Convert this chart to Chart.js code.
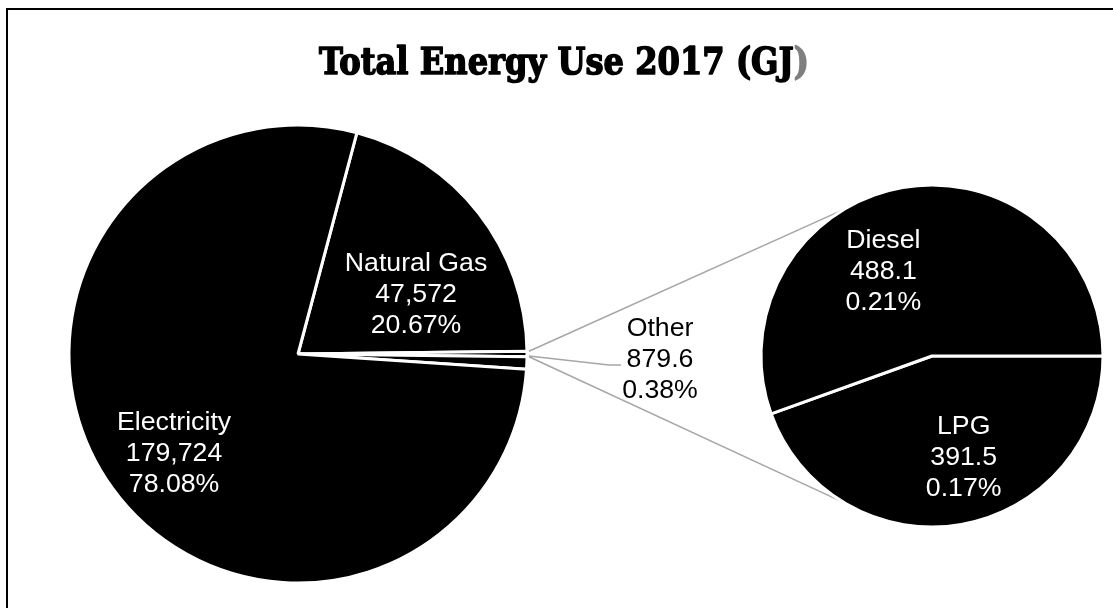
<!DOCTYPE html>
<html>
<head>
<meta charset="utf-8">
<title>Total Energy Use 2017 (GJ)</title>
<style>
  html, body { margin: 0; padding: 0; background: #fff; overflow: hidden; }
  #wrap { position: relative; width: 1113px; height: 608px; }
  #frame { position: absolute; left: 6px; top: 8px; width: 1300px; height: 800px; border: 2px solid #000; }
  canvas { position: absolute; left: 0; top: 0; }
</style>
</head>
<body>
<div id="wrap">
  <div id="frame"></div>
  <canvas id="mainPie" width="1113" height="608"></canvas>
  <canvas id="otherPie" width="1113" height="608"></canvas>
</div>

<script src="https://cdn.jsdelivr.net/npm/chart.js"></script>
<script>
// data (GJ) - main pie in drawing order, clockwise
const mainLabels = ['Natural Gas', 'Other', '', 'Electricity'];
const mainValues = [47572, 879.6, 2004.4, 179724];
// breakdown of "Other"
const otherLabels = ['LPG', 'Diesel'];
const otherValues = [391.5, 488.1];

const grandTotal = mainValues.reduce((a, b) => a + b, 0);

// label placement: [fraction of radius, shift from slice mid angle in degrees]
const mainSpots = [[0.58, 10.6], null, null, [0.69, -2.7]];
const otherSpots = [[0.61, -7.8], [0.58, -19.5]];

const LABEL_FONT = '26.7px "Liberation Sans", Arial, sans-serif';
const LINE_GAP = 31;
const GREY = '#a6a6a6';

function labelLines(name, value) {
  return [name, value.toLocaleString('en-US'), (value / grandTotal * 100).toFixed(2) + '%'];
}

function drawLines(ctx, lines, x, y, color) {
  ctx.save();
  ctx.font = LABEL_FONT;
  ctx.fillStyle = color;
  ctx.textAlign = 'center';
  ctx.textBaseline = 'middle';
  lines.forEach((t, i) => ctx.fillText(t, x, y + 2 + (i - 1) * LINE_GAP));
  ctx.restore();
}

function drawSliceLabels(chart, labels, values, spots) {
  const ctx = chart.ctx;
  const arcs = chart.getDatasetMeta(0).data;
  arcs.forEach((arc, i) => {
    const spot = spots[i];
    if (!spot) return;
    const mid = (arc.startAngle + arc.endAngle) / 2 + spot[1] * Math.PI / 180;
    const r = arc.outerRadius * spot[0];
    drawLines(ctx, labelLines(labels[i], values[i]), arc.x + r * Math.cos(mid), arc.y + r * Math.sin(mid), '#fff');
  });
}

const titlePlugin = {
  id: 'titlePlugin',
  afterDraw(chart) {
    const ctx = chart.ctx;
    const txt = 'Total Energy Use 2017 (GJ';
    ctx.save();
    ctx.font = 'bold 38px "DejaVu Serif"';
    const w1 = ctx.measureText(txt).width;
    const w2 = ctx.measureText(')').width;
    const sx = 490 / (w1 + w2);
    ctx.translate(564, 74);
    ctx.scale(sx, 1);
    ctx.textBaseline = 'alphabetic';
    ctx.textAlign = 'left';
    ctx.lineWidth = 1.6;
    ctx.lineJoin = 'round';
    ctx.fillStyle = '#000';
    ctx.strokeStyle = '#000';
    ctx.fillText(txt, -(w1 + w2) / 2, 0);
    ctx.strokeText(txt, -(w1 + w2) / 2, 0);
    ctx.fillStyle = '#7f7f7f';
    ctx.strokeStyle = '#7f7f7f';
    ctx.fillText(')', -(w1 + w2) / 2 + w1, 0);
    ctx.strokeText(')', -(w1 + w2) / 2 + w1, 0);
    ctx.restore();
  }
};

const mainLabelPlugin = {
  id: 'mainLabels',
  afterDatasetsDraw(chart) {
    drawSliceLabels(chart, mainLabels, mainValues, mainSpots);

    // "Other" label outside, with leader line
    const ctx = chart.ctx;
    const arc = chart.getDatasetMeta(0).data[1];
    const mid = (arc.startAngle + arc.endAngle) / 2;
    const ex = arc.x + (arc.outerRadius + 2) * Math.cos(mid);
    const ey = arc.y + (arc.outerRadius + 2) * Math.sin(mid);
    ctx.save();
    ctx.strokeStyle = GREY;
    ctx.lineWidth = 1.5;
    ctx.beginPath();
    ctx.moveTo(ex, ey + 2);
    ctx.lineTo(ex + 80, ey + 11);
    ctx.lineTo(ex + 92, ey + 11);
    ctx.stroke();
    ctx.restore();
    drawLines(ctx, labelLines(mainLabels[1], mainValues[1]), ex + 131, ey + 4, '#000');
  }
};

const rotationMain = 90 - (mainValues[0] + mainValues[1] / 2) / grandTotal * 360;

const mainChart = new Chart(document.getElementById('mainPie'), {
  type: 'pie',
  data: {
    labels: mainLabels,
    datasets: [{
      data: mainValues,
      backgroundColor: '#000',
      borderColor: '#fff',
      borderWidth: 3
    }]
  },
  options: {
    responsive: false,
    animation: false,
    events: [],
    radius: 229,
    rotation: rotationMain,
    layout: { padding: { left: 60, right: 577, top: 120, bottom: 20 } },
    plugins: {
      legend: { display: false },
      tooltip: { enabled: false },
      title: { display: false }
    }
  },
  plugins: [mainLabelPlugin, titlePlugin]
});

const connectorPlugin = {
  id: 'connectors',
  beforeDatasetsDraw(chart) {
    const ctx = chart.ctx;
    const src = mainChart.getDatasetMeta(0).data[1];
    const dst = chart.getDatasetMeta(0).data[0];
    const a = 59 * Math.PI / 180;
    ctx.save();
    ctx.strokeStyle = GREY;
    ctx.lineWidth = 1.5;
    [[src.startAngle, -1], [src.endAngle, 1]].forEach(([ang, s]) => {
      ctx.beginPath();
      ctx.moveTo(src.x + (src.outerRadius + 2) * Math.cos(ang), src.y + (src.outerRadius + 2) * Math.sin(ang));
      ctx.lineTo(dst.x - dst.outerRadius * Math.cos(a), dst.y + s * dst.outerRadius * Math.sin(a));
      ctx.stroke();
    });
    ctx.restore();
  },
  afterDatasetsDraw(chart) {
    drawSliceLabels(chart, otherLabels, otherValues, otherSpots);
  }
};

new Chart(document.getElementById('otherPie'), {
  type: 'pie',
  data: {
    labels: otherLabels,
    datasets: [{
      data: otherValues,
      backgroundColor: '#000',
      borderColor: '#fff',
      borderWidth: 3
    }]
  },
  options: {
    responsive: false,
    animation: false,
    events: [],
    radius: 171,
    rotation: 90,
    layout: { padding: { left: 755, right: 4, top: 180, bottom: 76 } },
    plugins: {
      legend: { display: false },
      tooltip: { enabled: false },
      title: { display: false }
    }
  },
  plugins: [connectorPlugin]
});
</script>
</body>
</html>
